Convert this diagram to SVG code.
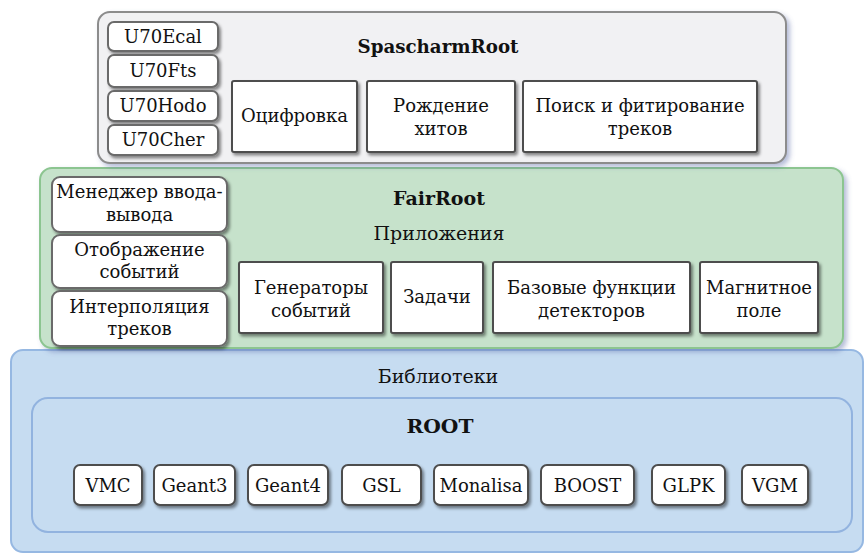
<svg xmlns="http://www.w3.org/2000/svg" width="865" height="555" viewBox="0 0 865 555" font-family="'DejaVu Serif', serif">
<defs>
<filter id="sh" x="-20%" y="-20%" width="150%" height="160%">
<feDropShadow dx="2" dy="2.5" stdDeviation="1.5" flood-color="#000" flood-opacity="0.45"/>
</filter>
<filter id="shb" x="-5%" y="-5%" width="112%" height="115%">
<feDropShadow dx="3" dy="3" stdDeviation="2.5" flood-color="#5a6aa8" flood-opacity="0.45"/>
</filter>
<style>
text{font-size:18px;fill:#111;text-anchor:middle}
.t{font-weight:bold;font-size:18px}
.h{font-size:19px}
.b{fill:#fff;stroke:#4d4d4d;stroke-width:2}
.u{fill:#fff;stroke:#6a6a6a;stroke-width:2}
</style>
</defs>
<rect width="865" height="555" fill="#fff"/>

<g id="libs">
<rect x="11" y="350" width="852" height="202" rx="12" fill="#c6dcf1" stroke="#96b8e2" stroke-width="2"/>
<text class="h" x="438" y="383">Библиотеки</text>
</g>
<g id="root">
<rect x="32" y="398" width="820" height="134" rx="16" fill="#c6dcf1" stroke="#92b3df" stroke-width="2"/>
<text class="t" x="440" y="433" textLength="67" lengthAdjust="spacingAndGlyphs">ROOT</text>
</g>
<g id="vmc"><rect class="b" x="74" y="465" width="68" height="40" rx="6" filter="url(#sh)"/><text x="108" y="492">VMC</text></g>
<g id="geant3"><rect class="b" x="154" y="465" width="81" height="40" rx="6" filter="url(#sh)"/><text x="194.5" y="492">Geant3</text></g>
<g id="geant4"><rect class="b" x="248" y="465" width="80" height="40" rx="6" filter="url(#sh)"/><text x="288" y="492">Geant4</text></g>
<g id="gsl"><rect class="b" x="342" y="465" width="79" height="40" rx="6" filter="url(#sh)"/><text x="381.5" y="492">GSL</text></g>
<g id="monalisa"><rect class="b" x="434" y="465" width="94" height="40" rx="6" filter="url(#sh)"/><text x="481" y="492">Monalisa</text></g>
<g id="boost"><rect class="b" x="541" y="465" width="93" height="40" rx="6" filter="url(#sh)"/><text x="587.5" y="492">BOOST</text></g>
<g id="glpk"><rect class="b" x="652" y="465" width="73" height="40" rx="6" filter="url(#sh)"/><text x="688.5" y="492">GLPK</text></g>
<g id="vgm"><rect class="b" x="742" y="465" width="66" height="40" rx="6" filter="url(#sh)"/><text x="775" y="492">VGM</text></g>

<g id="fairroot">
<rect x="40" y="168" width="803" height="180" rx="12" fill="#c6e2cb" stroke="#8cc590" stroke-width="2" filter="url(#shb)"/>
<text class="t" x="439" y="205" textLength="92" lengthAdjust="spacingAndGlyphs">FairRoot</text>
<text class="h" x="439" y="240">Приложения</text>
</g>
<g id="io"><rect class="u" x="52" y="177" width="175" height="55" rx="8" filter="url(#sh)"/><text x="139.5" y="198">Менеджер ввода-</text><text x="139.5" y="221">вывода</text></g>
<g id="evdisp"><rect class="u" x="52" y="235" width="175" height="53" rx="8" filter="url(#sh)"/><text x="139.5" y="256">Отображение</text><text x="139.5" y="278">событий</text></g>
<g id="interp"><rect class="u" x="52" y="291" width="175" height="55" rx="8" filter="url(#sh)"/><text x="139.5" y="313">Интерполяция</text><text x="139.5" y="335">треков</text></g>
<g id="gen"><rect class="b" x="239" y="262" width="144" height="71" rx="2" filter="url(#sh)"/><text x="311" y="294">Генераторы</text><text x="311" y="317">событий</text></g>
<g id="tasks"><rect class="b" x="391" y="262" width="92" height="71" rx="2" filter="url(#sh)"/><text x="437" y="303">Задачи</text></g>
<g id="detbase"><rect class="b" x="493" y="262" width="197" height="71" rx="2" filter="url(#sh)"/><text x="591.5" y="294">Базовые функции</text><text x="591.5" y="317">детекторов</text></g>
<g id="field"><rect class="b" x="700" y="262" width="118" height="71" rx="2" filter="url(#sh)"/><text x="759" y="294">Магнитное</text><text x="759" y="317">поле</text></g>

<g id="spascharmroot">
<rect x="98" y="12" width="688" height="151" rx="12" fill="#f1f1f3" stroke="#8c8c8c" stroke-width="2" filter="url(#shb)"/>
<text class="t" x="438" y="53" textLength="161" lengthAdjust="spacingAndGlyphs">SpascharmRoot</text>
</g>
<g id="ecal"><rect class="u" x="108" y="22" width="110" height="29" rx="6" filter="url(#sh)"/><text x="163" y="43">U70Ecal</text></g>
<g id="fts"><rect class="u" x="108" y="55" width="110" height="32" rx="6" filter="url(#sh)"/><text x="163" y="77">U70Fts</text></g>
<g id="hodo"><rect class="u" x="108" y="91" width="110" height="30" rx="6" filter="url(#sh)"/><text x="163" y="112">U70Hodo</text></g>
<g id="cher"><rect class="u" x="108" y="125" width="110" height="30" rx="6" filter="url(#sh)"/><text x="163" y="146">U70Cher</text></g>
<g id="digi"><rect class="b" x="232" y="81" width="125" height="71" rx="2" filter="url(#sh)"/><text x="294.5" y="122">Оцифровка</text></g>
<g id="hits"><rect class="b" x="367" y="81" width="148" height="71" rx="2" filter="url(#sh)"/><text x="441" y="112">Рождение</text><text x="441" y="135">хитов</text></g>
<g id="tracks"><rect class="b" x="523" y="81" width="234" height="71" rx="2" filter="url(#sh)"/><text x="640" y="112">Поиск и фитирование</text><text x="640" y="135">треков</text></g>

<g id="connectors"/>
</svg>
